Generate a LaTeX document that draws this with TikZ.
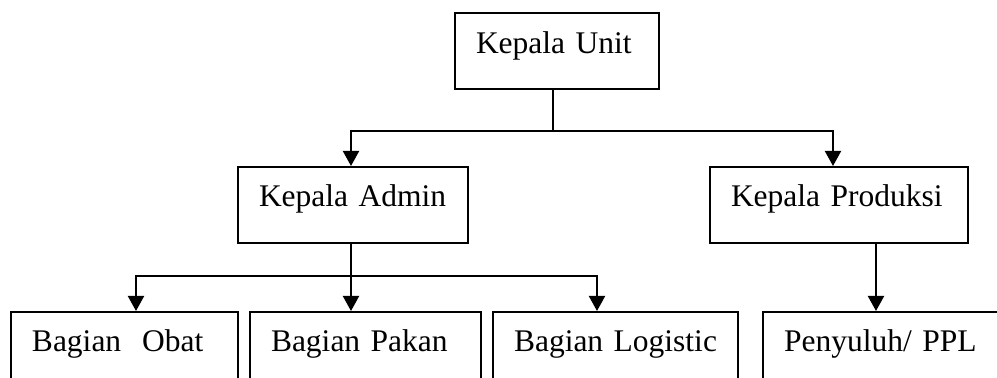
\documentclass[tikz,border=0pt]{standalone}
\usepackage{fontspec}
\setmainfont{Liberation Serif}
\usetikzlibrary{arrows.meta,positioning}

\tikzset{
    unitbox/.style={draw, line width=1pt, inner xsep=10.5pt, inner ysep=0pt,
        text height=20pt, text depth=18pt, align=left},
    link/.style={line width=1pt}
}

\begin{document}
\begin{tikzpicture}[%
    x=0.5pt, y=-0.5pt,
    >={Triangle[width=8pt,length=7.5pt]},
    on grid,
    font=\fontsize{15.75pt}{18pt}\selectfont
    ]

    \useasboundingbox (0,0) rectangle (997,378);
    \clip (0,0) rectangle (997,378);

    \node[unitbox,text width=81pt] (unit) at (557,51.5) {Kepala Unit};
    \node[unitbox,text width=94pt] (admin) [below left=76.75pt and 102pt of unit] {Kepala Admin};
    \node[unitbox,text width=108pt] (produksi) [below right=76.75pt and 141pt of unit] {Kepala Produksi};

    \node[unitbox,text width=92.5pt] (obat) [below left=72.5pt and 114.25pt of admin] {Bagian\ \ Obat};
    \node[unitbox,text width=94.5pt] (pakan) [right=120.5pt of obat] {Bagian Pakan};
    \node[unitbox,text width=101.5pt] (logistic) [right=125pt of pakan] {Bagian Logistic};
    \node[unitbox,text width=101.5pt] (penyuluh) [right=135pt of logistic] {Penyuluh/ PPL};

    \draw[link,->] ([xshift=-2pt]unit.south) -- ++(0,-20.5pt) -| ([xshift=-1pt]admin.north);
    \draw[link,->] ([xshift=-2pt]unit.south) -- ++(0,-20.5pt) -| ([xshift=-3pt]produksi.north);

    \draw[link,->] ([xshift=-1pt]admin.south) -- ++(0,-16pt) -| ([xshift=5.75pt]obat.north);
    \draw[link,->] ([xshift=-1pt]admin.south) -- ++(0,-16pt) -| ([xshift=-7.25pt]pakan.north);
    \draw[link,->] ([xshift=-1pt]admin.south) -- ++(0,-16pt) -| ([xshift=-9.25pt]logistic.north);

    \draw[link,->] ([xshift=18.5pt]produksi.south) -- ([xshift=18.5pt]produksi.south |- penyuluh.north);

\end{tikzpicture}
\end{document}
